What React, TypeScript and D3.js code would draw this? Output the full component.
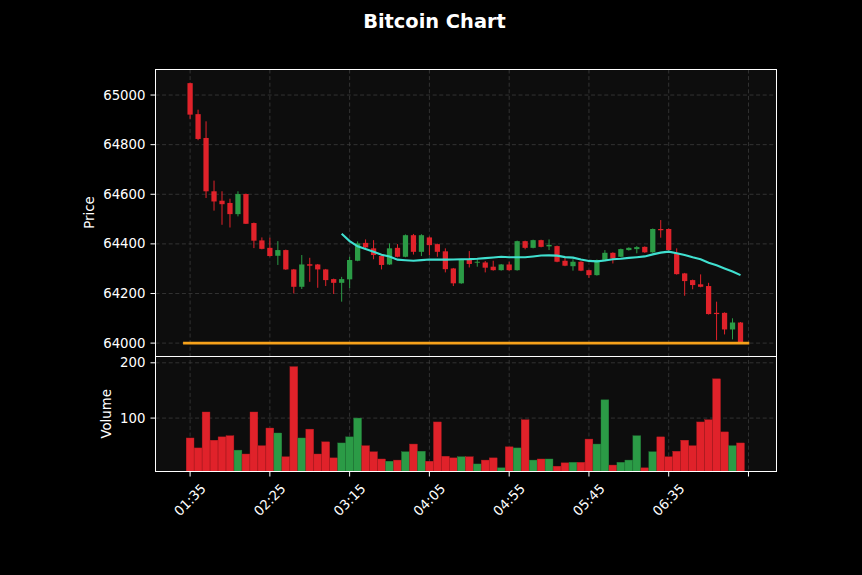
import React, { useEffect } from "react";
import * as d3 from "d3";

// ---- data (5-minute candles) ----
const tickIndex = [0, 10, 20, 30, 40, 50, 60, 70];
const tickLabels = ["01:35", "02:25", "03:15", "04:05", "04:55", "05:45", "06:35", ""];

const opens = [
  65048, 64923, 64827, 64612, 64574, 64565, 64520, 64601, 64484, 64414,
  64384, 64352, 64375, 64297, 64227, 64318, 64317, 64297, 64258, 64243,
  64257, 64332, 64404, 64382, 64351, 64317, 64384, 64348, 64435, 64368,
  64426, 64399, 64370, 64301, 64241, 64335, 64324, 64325, 64308, 64294,
  64317, 64294, 64411, 64384, 64415, 64390, 64391, 64332, 64310, 64328,
  64294, 64274, 64335, 64364, 64348, 64375, 64379, 64388, 64366, 64460,
  64460, 64362, 64281, 64254, 64237, 64230, 64122, 64122, 64055, 64083,
];
const highs = [
  65050, 64941, 64894, 64655, 64612, 64582, 64612, 64603, 64486, 64426,
  64425, 64411, 64377, 64299, 64355, 64344, 64319, 64299, 64260, 64267,
  64348, 64410, 64418, 64415, 64353, 64402, 64399, 64438, 64440, 64439,
  64430, 64401, 64382, 64303, 64337, 64371, 64338, 64331, 64332, 64319,
  64328, 64413, 64413, 64417, 64417, 64418, 64393, 64348, 64338, 64330,
  64296, 64337, 64375, 64366, 64381, 64386, 64391, 64390, 64462, 64496,
  64462, 64382, 64283, 64256, 64277, 64243, 64167, 64124, 64100, 64085,
];
const lows = [
  64904, 64818, 64585, 64534, 64477, 64466, 64511, 64480, 64383, 64378,
  64349, 64315, 64295, 64200, 64218, 64247, 64223, 64230, 64198, 64167,
  64222, 64330, 64378, 64338, 64297, 64315, 64346, 64346, 64357, 64351,
  64355, 64348, 64285, 64230, 64239, 64305, 64308, 64285, 64292, 64292,
  64292, 64292, 64378, 64382, 64386, 64375, 64326, 64310, 64292, 64290,
  64263, 64272, 64333, 64321, 64346, 64373, 64362, 64364, 64364, 64425,
  64373, 64276, 64191, 64217, 64225, 64115, 64012, 64035, 64015, 64000,
];
const closes = [
  64921, 64823, 64612, 64571, 64560, 64520, 64601, 64481, 64413, 64380,
  64351, 64375, 64297, 64227, 64317, 64312, 64297, 64254, 64243, 64258,
  64335, 64402, 64386, 64355, 64315, 64382, 64348, 64435, 64368, 64435,
  64395, 64368, 64298, 64241, 64335, 64319, 64328, 64304, 64294, 64317,
  64294, 64411, 64384, 64415, 64388, 64396, 64328, 64312, 64328, 64292,
  64274, 64335, 64364, 64341, 64379, 64384, 64387, 64366, 64460, 64455,
  64375, 64278, 64250, 64234, 64227, 64117, 64117, 64055, 64083, 64002,
];
const volumes = [
  64, 46, 111, 60, 66, 68, 42, 35, 111, 50,
  82, 73, 30, 193, 64, 80, 35, 57, 28, 55,
  66, 100, 50, 39, 26, 22, 24, 39, 53, 40,
  22, 93, 31, 28, 30, 30, 17, 24, 28, 10,
  48, 46, 97, 24, 26, 26, 13, 19, 20, 20,
  62, 53, 133, 15, 20, 24, 68, 10, 39, 66,
  30, 40, 60, 50, 93, 97, 171, 75, 50, 55,
];
const priceTicks = [64000, 64200, 64400, 64600, 64800, 65000];
const volumeTicks = [100, 200];
const hlineLevel = 64000;
const maPeriod = 20;

// ---- layout / style ----
const W = 862;
const H = 575;
const left = 155.5;
const right = 776.5;
const priceTop = 69.5;
const priceBottom = 356;
const volBottom = 471.5;
const FONT = "DejaVu Sans";
const UP = "#2b9b46";
const DOWN = "#e0222a";
const UP_EDGE = "#237f3a";
const DOWN_EDGE = "#b71c22";
const GRID = "#3c3c3c";
const FACE = "#0d0d0d";
const MA_COLOR = "#40e0d0";
const HLINE_COLOR = "#f7a21b";
const FS = 13.3;

export default function App() {
  useEffect(() => {
    document.body.style.margin = "0";
    document.body.style.background = "#000";
  }, []);

  const n = closes.length;
  const x = d3.scaleLinear().domain([-4.4, 73.45]).range([155, 776]);
  const step = x(1) - x(0);
  const yP = d3.scaleLinear().domain([63948, 65105]).range([356, 69]);
  const vMin = (d3.min(volumes) as number) * 0.3;
  const vMax = (d3.max(volumes) as number) * 1.1;
  const yV = d3.scaleLinear().domain([vMin, vMax]).range([471.7, 356]);

  const idx = d3.range(n);
  const ma: [number, number][] = idx
    .filter((i) => i >= maPeriod - 1)
    .map((i) => [i, d3.mean(closes.slice(i - maPeriod + 1, i + 1)) as number]);
  const maLine = d3
    .line<[number, number]>()
    .x((d) => x(d[0]))
    .y((d) => yP(d[1]))
    .curve(d3.curveLinear);

  const bodyW = step * 0.66;
  const barW = step * 0.98;

  return (
    <svg width={W} height={H} style={{ display: "block", background: "#000" }} fontFamily={FONT}>
      <rect x={0} y={0} width={W} height={H} fill="#000" />
      <text x={434.5} y={28.3} fill="#fff" fontSize={19.4} fontWeight="bold" textAnchor="middle">
        Bitcoin Chart
      </text>

      {/* panel faces */}
      <rect x={left} y={priceTop} width={right - left} height={priceBottom - priceTop} fill={FACE} />
      <rect x={left} y={priceBottom} width={right - left} height={volBottom - priceBottom} fill={FACE} />

      {/* grids */}
      <g stroke={GRID} strokeWidth={0.8} strokeDasharray="4,2.6">
        {tickIndex.map((t) => (
          <line key={"gx" + t} x1={x(t)} x2={x(t)} y1={priceTop} y2={volBottom} />
        ))}
        {priceTicks.map((p) => (
          <line key={"gp" + p} x1={left} x2={right} y1={yP(p)} y2={yP(p)} />
        ))}
        {volumeTicks.map((v) => (
          <line key={"gv" + v} x1={left} x2={right} y1={yV(v)} y2={yV(v)} />
        ))}
      </g>

      {/* candles */}
      <g>
        {idx.map((i) => {
          const up = closes[i] >= opens[i];
          const c = up ? UP : DOWN;
          const top = yP(Math.max(opens[i], closes[i]));
          const bot = yP(Math.min(opens[i], closes[i]));
          return (
            <g key={"c" + i}>
              <line x1={x(i)} x2={x(i)} y1={yP(highs[i])} y2={yP(lows[i])} stroke={c} strokeWidth={1} />
              <rect
                x={x(i) - bodyW / 2}
                y={top}
                width={bodyW}
                height={Math.max(bot - top, 1)}
                fill={c}
              />
            </g>
          );
        })}
      </g>

      {/* horizontal level line */}
      <line
        x1={x(-0.88)}
        x2={x(70.1)}
        y1={yP(hlineLevel)}
        y2={yP(hlineLevel)}
        stroke={HLINE_COLOR}
        strokeWidth={2.6}
      />

      {/* moving average */}
      <path d={maLine(ma) || ""} fill="none" stroke={MA_COLOR} strokeWidth={2.1} />

      {/* volume bars */}
      <g>
        {idx.map((i) => {
          const up = closes[i] >= opens[i];
          return (
            <rect
              key={"v" + i}
              x={x(i) - barW / 2}
              y={yV(volumes[i])}
              width={barW}
              height={volBottom - yV(volumes[i])}
              fill={up ? UP : DOWN}
              stroke={up ? UP_EDGE : DOWN_EDGE}
              strokeWidth={0.4}
            />
          );
        })}
      </g>

      {/* panel borders */}
      <g shapeRendering="crispEdges">
        <rect x={left} y={priceTop} width={right - left} height={priceBottom - priceTop} fill="none" stroke="#fff" strokeWidth={1} />
        <rect x={left} y={priceBottom} width={right - left} height={volBottom - priceBottom} fill="none" stroke="#fff" strokeWidth={1} />
      </g>

      {/* axes */}
      <g fill="#fff" fontSize={FS}>
        {priceTicks.map((p) => (
          <g key={"tp" + p}>
            <line x1={left - 5} x2={left} y1={yP(p)} y2={yP(p)} stroke="#fff" strokeWidth={1} />
            <text x={left - 10} y={yP(p)} textAnchor="end" dominantBaseline="central">
              {p}
            </text>
          </g>
        ))}
        {volumeTicks.map((v) => (
          <g key={"tv" + v}>
            <line x1={left - 5} x2={left} y1={yV(v)} y2={yV(v)} stroke="#fff" strokeWidth={1} />
            <text x={left - 10} y={yV(v)} textAnchor="end" dominantBaseline="central">
              {v}
            </text>
          </g>
        ))}
        {tickIndex.map((t, k) => (
          <g key={"tx" + t}>
            <line x1={x(t)} x2={x(t)} y1={volBottom} y2={volBottom + 5} stroke="#fff" strokeWidth={1} />
            {tickLabels[k] ? (
              <text
                transform={`translate(${x(t)},${500}) rotate(-45)`}
                textAnchor="middle"
                dominantBaseline="central"
              >
                {tickLabels[k]}
              </text>
            ) : null}
          </g>
        ))}
        <text
          transform={`translate(89,${(69 + 356) / 2}) rotate(-90)`}
          textAnchor="middle"
          dominantBaseline="central"
        >
          Price
        </text>
        <text
          transform={`translate(106.5,${(356 + 471.7) / 2}) rotate(-90)`}
          textAnchor="middle"
          dominantBaseline="central"
        >
          Volume
        </text>
      </g>
    </svg>
  );
}
